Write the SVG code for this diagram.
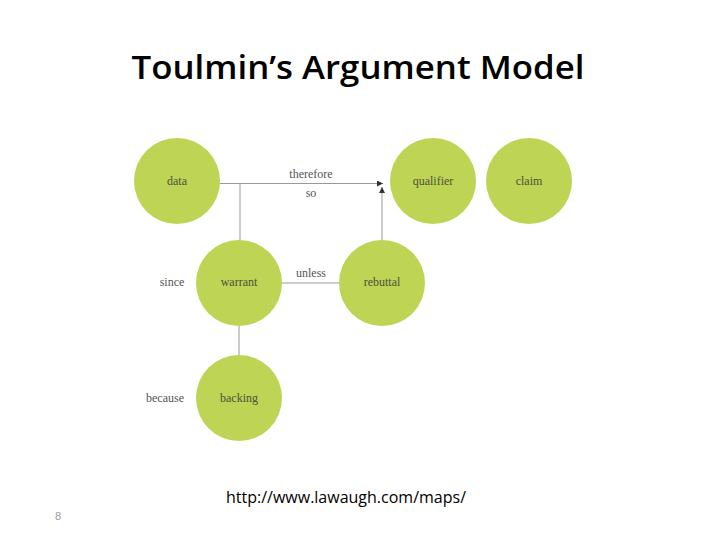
<svg xmlns="http://www.w3.org/2000/svg" width="720" height="540" viewBox="0 0 720 540">
<defs>
<style>
.node circle{fill:#bdd455;}
.nt{font-family:"Liberation Serif","DejaVu Serif",serif;font-size:12px;fill:#4f4f3c;text-anchor:middle;}
.lb{font-family:"Liberation Serif","DejaVu Serif",serif;font-size:12px;fill:#555;text-anchor:middle;}
.ln{stroke:#999;stroke-width:1;fill:none;}
</style>
<marker id="ah" viewBox="0 0 6 6" refX="6" refY="3" markerWidth="6" markerHeight="6" orient="auto" markerUnits="userSpaceOnUse">
<path d="M0,0 L6,3 L0,6 z" fill="#333"/>
</marker>
</defs>
<rect width="720" height="540" fill="#fff"/>
<text x="358" y="79" font-family="'Open Sans','Liberation Sans',sans-serif" font-size="32" font-weight="600" text-anchor="middle" fill="#000" textLength="453" lengthAdjust="spacingAndGlyphs">Toulmin’s Argument Model</text>
<g id="connectors">
<line class="ln" x1="220" y1="183.5" x2="383" y2="183.5" marker-end="url(#ah)"/>
<line class="ln" x1="240" y1="183.5" x2="240" y2="240"/>
<line class="ln" x1="382" y1="240" x2="382" y2="187" marker-end="url(#ah)"/>
<line class="ln" x1="282" y1="283" x2="339" y2="283"/>
<line class="ln" x1="239" y1="326" x2="239" y2="355"/>
<text class="lb" x="311" y="178">therefore</text>
<text class="lb" x="311" y="197">so</text>
<text class="lb" x="172" y="286">since</text>
<text class="lb" x="311" y="277">unless</text>
<text class="lb" x="165" y="402">because</text>
</g>
<g id="data" class="node"><circle cx="177" cy="181" r="43"/><text class="nt" x="177" y="185">data</text></g>
<g id="qualifier" class="node"><circle cx="433" cy="181" r="43"/><text class="nt" x="433" y="185">qualifier</text></g>
<g id="claim" class="node"><circle cx="529" cy="181" r="43"/><text class="nt" x="529" y="185">claim</text></g>
<g id="warrant" class="node"><circle cx="239" cy="283" r="43"/><text class="nt" x="239" y="286">warrant</text></g>
<g id="rebuttal" class="node"><circle cx="382" cy="283" r="43"/><text class="nt" x="382" y="286">rebuttal</text></g>
<g id="backing" class="node"><circle cx="239" cy="398" r="43"/><text class="nt" x="239" y="402">backing</text></g>
<text x="346" y="503" font-family="'Open Sans','Liberation Sans',sans-serif" font-size="16" text-anchor="middle" fill="#000">http://www.lawaugh.com/maps/</text>
<text x="58" y="520" font-family="'Liberation Sans',sans-serif" font-size="11" text-anchor="middle" fill="#999">8</text>
</svg>
